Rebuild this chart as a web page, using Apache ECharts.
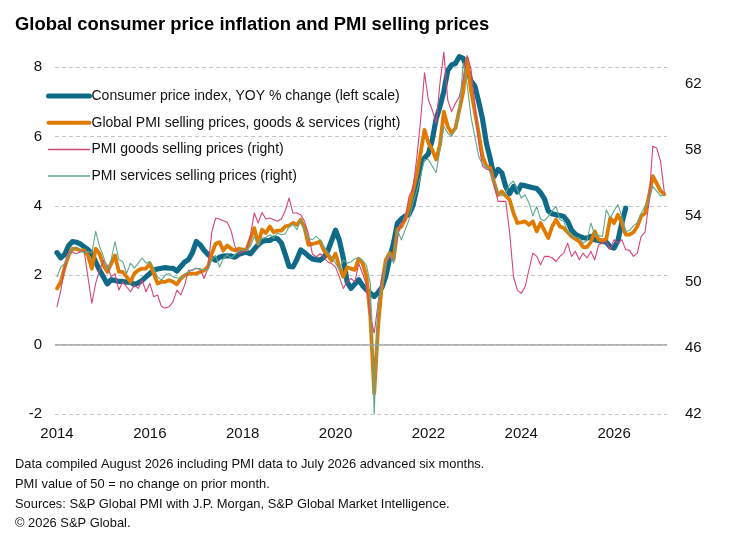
<!DOCTYPE html>
<html><head><meta charset="utf-8">
<script src="https://cdn.jsdelivr.net/npm/echarts@6.0.0/dist/echarts.min.js"></script>
<style>html,body{margin:0;padding:0;background:#fff}#c{width:744px;height:550px}</style>
</head><body><div id="c"></div>
<script>
// Monthly data, first point = Jan 2014
const startYear = 2014;

const cpi = [
  2.65, 2.5, 2.6, 2.85, 2.97, 2.95, 2.9, 2.82, 2.74, 2.62, 2.38, 2.15,
  1.95, 1.75, 1.87, 1.85, 1.82, 1.82, 1.8, 1.8, 1.73, 1.78, 1.85, 1.95,
  2.05, 2.15, 2.18, 2.2, 2.22, 2.2, 2.2, 2.12, 2.25, 2.38, 2.45, 2.65,
  2.97, 2.88, 2.72, 2.6, 2.5, 2.43, 2.52, 2.55, 2.56, 2.55, 2.52, 2.6,
  2.64, 2.66, 2.62, 2.75, 2.88, 2.97, 3.0, 3.0, 3.07, 3.05, 2.93, 2.6,
  2.25, 2.24, 2.45, 2.73, 2.65, 2.55, 2.47, 2.45, 2.43, 2.52, 2.7, 3.0,
  3.3, 3.0, 2.5, 1.8, 1.62, 1.75, 1.87, 1.7, 1.58, 1.48, 1.39, 1.5,
  1.65, 1.97, 2.5, 2.93, 3.5, 3.62, 3.7, 3.75, 4.0, 4.5, 5.25, 5.38,
  5.5, 5.9, 6.5, 6.86, 7.3, 7.9, 8.06, 8.1, 8.3, 8.25, 7.95, 7.6,
  7.45, 7.0, 6.5, 5.8, 5.35, 4.84, 5.05, 4.95, 4.55, 4.35, 4.56, 4.4,
  4.6, 4.58, 4.55, 4.52, 4.5, 4.38, 4.2, 3.85, 3.77, 3.74, 3.72, 3.69,
  3.55, 3.3, 3.18, 3.12, 3.08, 3.07, 3.12, 3.02, 3.0, 2.97, 2.95, 2.82,
  2.78, 3.0, 3.5, 3.93
];

const pmiAll = [
  49.6, 50.0, 50.9, 51.6, 52.0, 52.0, 51.9, 51.9, 51.6, 50.8, 52.0, 51.7,
  51.0, 50.6, 51.1, 51.6, 50.6, 50.6, 50.3, 50.0, 50.5, 50.7, 50.8, 50.8,
  51.1, 50.5, 49.9, 50.0, 50.0, 50.1, 50.0, 49.85, 50.2, 50.4, 50.5, 50.5,
  50.5, 50.6, 50.7, 50.9, 51.7, 52.3, 52.4, 51.9, 52.2, 52.0, 51.9, 52.0,
  51.95, 51.95, 52.6, 53.25, 52.3, 53.15, 52.95, 53.35, 53.0, 53.1, 53.1, 53.35,
  53.4, 53.56, 53.45, 53.76, 53.25, 52.24, 52.3, 52.34, 52.44, 51.9, 51.6, 51.28,
  51.7, 50.9, 50.3, 50.88, 50.8, 50.72, 51.4, 51.13, 50.32, 47.9, 43.25, 47.3,
  49.9, 51.33, 51.74, 51.33, 53.15, 53.35, 53.76, 54.56, 55.5, 56.5, 57.8, 59.2,
  58.4, 58.0, 57.4, 58.3, 60.3, 59.4, 59.0, 59.3, 60.4, 61.5, 63.5, 61.6,
  60.3, 59.0, 57.6, 57.0, 56.9, 56.0, 55.25, 55.47, 55.2, 54.97, 54.16, 53.56,
  53.6, 53.66, 53.45, 53.66, 53.05, 53.56, 53.1, 52.65, 53.35, 53.76, 53.35, 53.25,
  53.0, 52.75, 52.6, 52.44, 52.1, 52.1, 52.4, 53.05, 52.55, 52.5, 52.6, 53.86,
  53.56, 54.06, 53.56, 52.85, 52.85, 53.0, 53.35, 53.96, 54.16, 55.17, 56.4, 55.95,
  55.5, 55.3
];

const pmiGoods = [
  48.5, 49.5, 50.9, 51.8, 51.8, 51.7, 51.8, 51.9, 50.3, 48.7, 49.9, 50.7,
  51.3, 51.0, 50.3, 50.5, 49.5, 50.0, 49.7, 49.4, 49.8, 49.6, 50.1, 49.4,
  49.9, 49.1, 49.2, 48.5, 48.4, 48.5, 48.8, 49.5, 49.2, 49.8, 50.7, 50.7,
  50.8, 50.8, 50.2, 50.8, 53.0, 53.86, 53.8, 53.7, 53.6, 53.1, 52.14, 51.7,
  51.8, 51.94, 52.8, 54.16, 53.56, 54.2, 53.8, 53.86, 53.76, 53.66, 53.8, 54.3,
  55.07, 54.16, 54.16, 54.06, 53.66, 52.9, 51.7, 51.5, 51.7, 51.5, 51.2, 51.1,
  50.9, 50.3, 49.6, 50.0, 50.2, 50.0, 51.1, 50.5, 49.8, 47.9, 46.9, 48.7,
  50.3, 51.1, 51.53, 51.33, 52.75, 53.56, 53.76, 55.17, 55.58, 57.5, 59.8, 62.65,
  61.0, 60.4, 59.6, 62.04, 63.9, 61.0, 60.3, 60.8, 61.2, 62.24, 63.7, 62.9,
  60.8, 58.4, 57.0, 56.8, 56.8, 55.9, 54.87, 54.87, 54.87, 53.0, 50.32, 49.5,
  49.3, 49.7, 50.73, 51.74, 51.54, 51.03, 51.54, 51.54, 51.44, 51.23, 51.54, 51.74,
  52.34, 51.54, 51.84, 51.33, 51.74, 51.44, 51.84, 51.33, 52.24, 52.34, 52.44, 51.94,
  52.55, 52.34, 52.55, 51.94, 51.9, 51.54, 51.74, 52.75, 53.0, 54.77, 58.2, 58.1,
  57.3, 55.4
];

const pmiServices = [
  50.3, 50.9, 51.1, 51.6, 52.0, 52.1, 51.9, 51.74, 51.84, 51.74, 53.05, 52.14,
  51.54, 50.73, 51.33, 52.44, 51.33, 51.23, 50.5, 51.13, 50.83, 51.13, 51.44, 51.13,
  51.23, 50.83, 50.3, 50.1, 50.42, 50.5, 50.3, 50.25, 50.2, 50.42, 50.6, 50.73,
  50.83, 50.75, 50.73, 50.73, 51.33, 51.6, 50.9, 51.4, 51.64, 51.44, 51.64, 51.84,
  51.94, 51.94, 52.14, 52.75, 52.24, 52.65, 52.7, 52.85, 52.65, 52.95, 52.85, 52.9,
  53.35, 53.5, 53.15, 53.76, 53.1, 52.65, 52.54, 52.75, 52.54, 52.14, 51.8, 51.5,
  51.13, 50.73, 51.33, 51.13, 51.2, 51.4, 51.44, 51.3, 51.0, 49.9, 42.0, 48.7,
  49.9, 51.13, 51.74, 51.13, 53.15, 52.54, 53.15, 53.76, 54.77, 55.5, 56.38, 57.4,
  57.4, 57.0, 56.6, 58.0, 59.4, 59.0, 58.8, 59.3, 60.3, 63.25, 62.0, 60.0,
  58.8, 57.6, 57.1, 57.0, 56.6, 56.0, 55.4, 55.2, 55.38, 55.9, 56.1, 55.6,
  55.07, 55.27, 54.77, 54.0, 54.56, 53.8, 53.7, 53.96, 54.3, 54.56, 53.76, 53.66,
  53.05, 52.75, 52.7, 52.65, 52.34, 52.5, 53.56, 52.85, 52.8, 52.75, 54.36, 53.86,
  54.3, 54.67, 53.96, 53.05, 53.1, 53.4, 53.56, 54.16, 54.56, 55.0, 55.78, 55.5,
  55.2, 55.27
];

const yearLabels = [2014, 2016, 2018, 2020, 2022, 2024, 2026];
const rightLabels = [42, 46, 50, 54, 58, 62];

const seriesNames = [
  'Consumer price index, YOY % change (left scale)',
  'Global PMI selling prices, goods & services (right)',
  'PMI goods selling prices (right)',
  'PMI services selling prices (right)'
];
const seriesColors = ['#0e6a86', '#e07b00', '#d4457a', '#5ea890'];

const titleText = 'Global consumer price inflation and PMI selling prices';
const footerLines = [
  'Data compiled August 2026 including PMI data to July 2026 advanced six months.',
  'PMI value of 50 = no change on prior month.',
  'Sources: S&P Global PMI with J.P. Morgan, S&P Global Market Intelligence.',
  '\u00A9 2026 S&P Global.'
];

const FONT = "'Liberation Sans', Arial, sans-serif";
const toPairs = arr => arr.map((v, i) => [startYear + i / 12, v]);

const chart = echarts.init(document.getElementById('c'), null, {renderer: 'canvas'});
const widths = [5.2, 3.8, 1.1, 1.1];
const legendWidths = [5, 4, 1.5, 1.5];
const datasets = [cpi, pmiAll, pmiGoods, pmiServices];

const series = datasets.map((arr, k) => {
  const s = {
    name: seriesNames[k],
    type: 'line',
    data: toPairs(arr),
    yAxisIndex: k === 0 ? 0 : 1,
    symbol: 'none',
    clip: false,
    z: 2 + k,
    lineStyle: {width: widths[k], color: seriesColors[k], cap: 'round', join: 'round'},
    itemStyle: {color: seriesColors[k]},
    emphasis: {disabled: true}
  };
  if (k === 0) {
    s.markLine = {
      silent: true, symbol: 'none', label: {show: false}, animation: false,
      lineStyle: {color: '#a6a6a6', width: 1.6, type: 'solid'},
      data: [{yAxis: 0}]
    };
  }
  return s;
});

chart.setOption({
  animation: false,
  backgroundColor: '#fff',
  title: [
    {text: titleText, left: 15, top: 16, padding: 0,
     textStyle: {fontFamily: FONT, fontSize: 18.4, fontWeight: 'bold', color: '#000'}},
    {text: footerLines.join('\n'), left: 15, top: 455, padding: 0,
     textStyle: {fontFamily: FONT, fontSize: 12.9, fontWeight: 'normal', lineHeight: 19.6, color: '#111'}}
  ],
  legend: {
    orient: 'vertical', left: 46, top: 89, padding: 0,
    itemWidth: 41, itemHeight: 14, itemGap: 12.7,
    textStyle: {fontFamily: FONT, fontSize: 14, color: '#111', padding: [0, 0, 0, -3]},
    data: seriesNames.map((n, k) => ({
      name: n,
      itemStyle: {opacity: 0},
      lineStyle: {width: legendWidths[k], color: seriesColors[k], cap: 'round'}
    }))
  },
  grid: {left: 55, right: 77, top: 67, bottom: 136},
  xAxis: {
    type: 'value', min: 2013.957, max: 2027.14,
    axisLine: {show: false}, axisTick: {show: false}, splitLine: {show: false},
    axisLabel: {customValues: yearLabels, formatter: v => String(Math.round(v)),
      fontFamily: FONT, fontSize: 15, color: '#111', margin: 12}
  },
  yAxis: [
    {type: 'value', min: -2, max: 8, interval: 2,
     axisLine: {show: false}, axisTick: {show: false},
     axisLabel: {fontFamily: FONT, fontSize: 15, color: '#111', margin: 13},
     splitLine: {show: true, lineStyle: {type: [4, 3], color: '#c4c4c4', width: 1}}},
    {type: 'value', position: 'right', min: 42, max: 63,
     axisLine: {show: false}, axisTick: {show: false},
     axisLabel: {customValues: rightLabels, fontFamily: FONT, fontSize: 15, color: '#111', margin: 18},
     splitLine: {show: false}}
  ],
  series: series
});
</script>
</body></html>
